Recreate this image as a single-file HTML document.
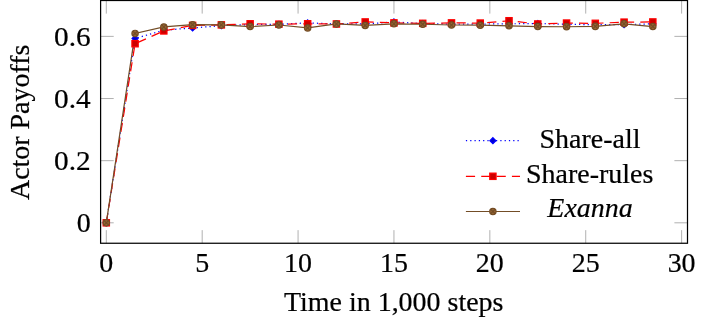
<!DOCTYPE html><html><head><meta charset="utf-8"><title>chart</title>
<style>html,body{margin:0;padding:0;background:#fff;overflow:hidden}svg{display:block;will-change:transform}text{font-family:"Liberation Serif",serif;fill:#000;stroke:#000;stroke-width:0.22px}</style></head><body>
<svg width="705" height="326" viewBox="0 0 705 326">
<rect width="705" height="326" fill="#fff"/>
<path d="M106.30,243.25 V230.15 M106.30,0.5 V13.60 M202.19,243.25 V230.15 M202.19,0.5 V13.60 M298.07,243.25 V230.15 M298.07,0.5 V13.60 M393.95,243.25 V230.15 M393.95,0.5 V13.60 M489.84,243.25 V230.15 M489.84,0.5 V13.60 M585.73,243.25 V230.15 M585.73,0.5 V13.60 M681.61,243.25 V230.15 M681.61,0.5 V13.60 M100.6,222.80 H113.70 M687.5,222.80 H674.40 M100.6,160.66 H113.70 M687.5,160.66 H674.40 M100.6,98.52 H113.70 M687.5,98.52 H674.40 M100.6,36.38 H113.70 M687.5,36.38 H674.40" stroke="#808080" stroke-width="0.62" fill="none"/>
<clipPath id="c"><rect x="100.6" y="0.5" width="586.9" height="242.75"/></clipPath>
<g clip-path="url(#c)">
<polyline points="106.30,222.80 135.07,38.46 163.83,30.17 192.60,27.99 221.36,25.66 250.13,24.57 278.89,24.26 307.66,22.90 336.42,23.95 365.19,23.95 393.95,21.96 422.72,23.64 451.49,24.08 480.25,24.08 509.02,23.80 537.78,23.55 566.55,24.26 595.31,24.73 624.08,24.57 652.84,23.80" fill="none" stroke="#0000ff" stroke-width="1.23" stroke-dasharray="1.23 3.07"/>
<polyline points="106.30,222.80 135.07,43.71 163.83,30.91 192.60,25.38 221.36,24.88 250.13,23.80 278.89,24.17 307.66,23.80 336.42,23.98 365.19,21.96 393.95,22.90 422.72,23.33 451.49,22.90 480.25,23.08 509.02,20.75 537.78,23.98 566.55,23.08 595.31,23.33 624.08,22.15 652.84,21.96" fill="none" stroke="#ff0000" stroke-width="1.23" stroke-dasharray="9.2 6.14"/>
<polyline points="106.30,222.80 135.07,33.40 163.83,26.97 192.60,24.73 221.36,24.88 250.13,26.56 278.89,25.01 307.66,27.93 336.42,23.98 365.19,25.44 393.95,23.80 422.72,24.26 451.49,25.01 480.25,25.19 509.02,25.82 537.78,26.56 566.55,26.75 595.31,26.38 624.08,23.80 652.84,26.56" fill="none" stroke="#734d26" stroke-width="1.23"/>
</g>
<path d="M106.30,219.80 L109.30,222.80 L106.30,225.80 L103.30,222.80 Z" fill="#0000cc" stroke="#0000ff" stroke-width="1.23" stroke-linejoin="miter"/>
<path d="M135.07,35.46 L138.07,38.46 L135.07,41.46 L132.07,38.46 Z" fill="#0000cc" stroke="#0000ff" stroke-width="1.23" stroke-linejoin="miter"/>
<path d="M163.83,27.17 L166.83,30.17 L163.83,33.17 L160.83,30.17 Z" fill="#0000cc" stroke="#0000ff" stroke-width="1.23" stroke-linejoin="miter"/>
<path d="M192.60,24.99 L195.60,27.99 L192.60,30.99 L189.60,27.99 Z" fill="#0000cc" stroke="#0000ff" stroke-width="1.23" stroke-linejoin="miter"/>
<path d="M221.36,22.66 L224.36,25.66 L221.36,28.66 L218.36,25.66 Z" fill="#0000cc" stroke="#0000ff" stroke-width="1.23" stroke-linejoin="miter"/>
<path d="M250.13,21.57 L253.13,24.57 L250.13,27.57 L247.13,24.57 Z" fill="#0000cc" stroke="#0000ff" stroke-width="1.23" stroke-linejoin="miter"/>
<path d="M278.89,21.26 L281.89,24.26 L278.89,27.26 L275.89,24.26 Z" fill="#0000cc" stroke="#0000ff" stroke-width="1.23" stroke-linejoin="miter"/>
<path d="M307.66,19.90 L310.66,22.90 L307.66,25.90 L304.66,22.90 Z" fill="#0000cc" stroke="#0000ff" stroke-width="1.23" stroke-linejoin="miter"/>
<path d="M336.42,20.95 L339.42,23.95 L336.42,26.95 L333.42,23.95 Z" fill="#0000cc" stroke="#0000ff" stroke-width="1.23" stroke-linejoin="miter"/>
<path d="M365.19,20.95 L368.19,23.95 L365.19,26.95 L362.19,23.95 Z" fill="#0000cc" stroke="#0000ff" stroke-width="1.23" stroke-linejoin="miter"/>
<path d="M393.95,18.96 L396.95,21.96 L393.95,24.96 L390.95,21.96 Z" fill="#0000cc" stroke="#0000ff" stroke-width="1.23" stroke-linejoin="miter"/>
<path d="M422.72,20.64 L425.72,23.64 L422.72,26.64 L419.72,23.64 Z" fill="#0000cc" stroke="#0000ff" stroke-width="1.23" stroke-linejoin="miter"/>
<path d="M451.49,21.08 L454.49,24.08 L451.49,27.08 L448.49,24.08 Z" fill="#0000cc" stroke="#0000ff" stroke-width="1.23" stroke-linejoin="miter"/>
<path d="M480.25,21.08 L483.25,24.08 L480.25,27.08 L477.25,24.08 Z" fill="#0000cc" stroke="#0000ff" stroke-width="1.23" stroke-linejoin="miter"/>
<path d="M509.02,20.80 L512.02,23.80 L509.02,26.80 L506.02,23.80 Z" fill="#0000cc" stroke="#0000ff" stroke-width="1.23" stroke-linejoin="miter"/>
<path d="M537.78,20.55 L540.78,23.55 L537.78,26.55 L534.78,23.55 Z" fill="#0000cc" stroke="#0000ff" stroke-width="1.23" stroke-linejoin="miter"/>
<path d="M566.55,21.26 L569.55,24.26 L566.55,27.26 L563.55,24.26 Z" fill="#0000cc" stroke="#0000ff" stroke-width="1.23" stroke-linejoin="miter"/>
<path d="M595.31,21.73 L598.31,24.73 L595.31,27.73 L592.31,24.73 Z" fill="#0000cc" stroke="#0000ff" stroke-width="1.23" stroke-linejoin="miter"/>
<path d="M624.08,21.57 L627.08,24.57 L624.08,27.57 L621.08,24.57 Z" fill="#0000cc" stroke="#0000ff" stroke-width="1.23" stroke-linejoin="miter"/>
<path d="M652.84,20.80 L655.84,23.80 L652.84,26.80 L649.84,23.80 Z" fill="#0000cc" stroke="#0000ff" stroke-width="1.23" stroke-linejoin="miter"/>
<rect x="103.15" y="219.65" width="6.30" height="6.30" fill="#cc0000" stroke="#ff0000" stroke-width="1.23"/>
<rect x="131.92" y="40.56" width="6.30" height="6.30" fill="#cc0000" stroke="#ff0000" stroke-width="1.23"/>
<rect x="160.68" y="27.76" width="6.30" height="6.30" fill="#cc0000" stroke="#ff0000" stroke-width="1.23"/>
<rect x="189.45" y="22.23" width="6.30" height="6.30" fill="#cc0000" stroke="#ff0000" stroke-width="1.23"/>
<rect x="218.21" y="21.73" width="6.30" height="6.30" fill="#cc0000" stroke="#ff0000" stroke-width="1.23"/>
<rect x="246.98" y="20.65" width="6.30" height="6.30" fill="#cc0000" stroke="#ff0000" stroke-width="1.23"/>
<rect x="275.74" y="21.02" width="6.30" height="6.30" fill="#cc0000" stroke="#ff0000" stroke-width="1.23"/>
<rect x="304.51" y="20.65" width="6.30" height="6.30" fill="#cc0000" stroke="#ff0000" stroke-width="1.23"/>
<rect x="333.27" y="20.83" width="6.30" height="6.30" fill="#cc0000" stroke="#ff0000" stroke-width="1.23"/>
<rect x="362.04" y="18.81" width="6.30" height="6.30" fill="#cc0000" stroke="#ff0000" stroke-width="1.23"/>
<rect x="390.81" y="19.75" width="6.30" height="6.30" fill="#cc0000" stroke="#ff0000" stroke-width="1.23"/>
<rect x="419.57" y="20.18" width="6.30" height="6.30" fill="#cc0000" stroke="#ff0000" stroke-width="1.23"/>
<rect x="448.34" y="19.75" width="6.30" height="6.30" fill="#cc0000" stroke="#ff0000" stroke-width="1.23"/>
<rect x="477.10" y="19.93" width="6.30" height="6.30" fill="#cc0000" stroke="#ff0000" stroke-width="1.23"/>
<rect x="505.87" y="17.60" width="6.30" height="6.30" fill="#cc0000" stroke="#ff0000" stroke-width="1.23"/>
<rect x="534.63" y="20.83" width="6.30" height="6.30" fill="#cc0000" stroke="#ff0000" stroke-width="1.23"/>
<rect x="563.40" y="19.93" width="6.30" height="6.30" fill="#cc0000" stroke="#ff0000" stroke-width="1.23"/>
<rect x="592.16" y="20.18" width="6.30" height="6.30" fill="#cc0000" stroke="#ff0000" stroke-width="1.23"/>
<rect x="620.93" y="19.00" width="6.30" height="6.30" fill="#cc0000" stroke="#ff0000" stroke-width="1.23"/>
<rect x="649.69" y="18.81" width="6.30" height="6.30" fill="#cc0000" stroke="#ff0000" stroke-width="1.23"/>
<circle cx="106.30" cy="222.80" r="3.15" fill="#996633" stroke="#734d26" stroke-width="1.23"/><path d="M104.00,220.50 L108.60,225.10 M104.00,225.10 L108.60,220.50" stroke="#734d26" stroke-width="1.23" fill="none"/>
<circle cx="135.07" cy="33.40" r="3.15" fill="#996633" stroke="#734d26" stroke-width="1.23"/><path d="M132.77,31.10 L137.36,35.70 M132.77,35.70 L137.36,31.10" stroke="#734d26" stroke-width="1.23" fill="none"/>
<circle cx="163.83" cy="26.97" r="3.15" fill="#996633" stroke="#734d26" stroke-width="1.23"/><path d="M161.53,24.67 L166.13,29.26 M161.53,29.26 L166.13,24.67" stroke="#734d26" stroke-width="1.23" fill="none"/>
<circle cx="192.60" cy="24.73" r="3.15" fill="#996633" stroke="#734d26" stroke-width="1.23"/><path d="M190.30,22.43 L194.89,27.03 M190.30,27.03 L194.89,22.43" stroke="#734d26" stroke-width="1.23" fill="none"/>
<circle cx="221.36" cy="24.88" r="3.15" fill="#996633" stroke="#734d26" stroke-width="1.23"/><path d="M219.06,22.59 L223.66,27.18 M219.06,27.18 L223.66,22.59" stroke="#734d26" stroke-width="1.23" fill="none"/>
<circle cx="250.13" cy="26.56" r="3.15" fill="#996633" stroke="#734d26" stroke-width="1.23"/><path d="M247.83,24.26 L252.43,28.86 M247.83,28.86 L252.43,24.26" stroke="#734d26" stroke-width="1.23" fill="none"/>
<circle cx="278.89" cy="25.01" r="3.15" fill="#996633" stroke="#734d26" stroke-width="1.23"/><path d="M276.59,22.71 L281.19,27.31 M276.59,27.31 L281.19,22.71" stroke="#734d26" stroke-width="1.23" fill="none"/>
<circle cx="307.66" cy="27.93" r="3.15" fill="#996633" stroke="#734d26" stroke-width="1.23"/><path d="M305.36,25.63 L309.96,30.23 M305.36,30.23 L309.96,25.63" stroke="#734d26" stroke-width="1.23" fill="none"/>
<circle cx="336.42" cy="23.98" r="3.15" fill="#996633" stroke="#734d26" stroke-width="1.23"/><path d="M334.13,21.68 L338.72,26.28 M334.13,26.28 L338.72,21.68" stroke="#734d26" stroke-width="1.23" fill="none"/>
<circle cx="365.19" cy="25.44" r="3.15" fill="#996633" stroke="#734d26" stroke-width="1.23"/><path d="M362.89,23.15 L367.49,27.74 M362.89,27.74 L367.49,23.15" stroke="#734d26" stroke-width="1.23" fill="none"/>
<circle cx="393.95" cy="23.80" r="3.15" fill="#996633" stroke="#734d26" stroke-width="1.23"/><path d="M391.66,21.50 L396.25,26.09 M391.66,26.09 L396.25,21.50" stroke="#734d26" stroke-width="1.23" fill="none"/>
<circle cx="422.72" cy="24.26" r="3.15" fill="#996633" stroke="#734d26" stroke-width="1.23"/><path d="M420.42,21.96 L425.02,26.56 M420.42,26.56 L425.02,21.96" stroke="#734d26" stroke-width="1.23" fill="none"/>
<circle cx="451.49" cy="25.01" r="3.15" fill="#996633" stroke="#734d26" stroke-width="1.23"/><path d="M449.19,22.71 L453.78,27.31 M449.19,27.31 L453.78,22.71" stroke="#734d26" stroke-width="1.23" fill="none"/>
<circle cx="480.25" cy="25.19" r="3.15" fill="#996633" stroke="#734d26" stroke-width="1.23"/><path d="M477.95,22.90 L482.55,27.49 M477.95,27.49 L482.55,22.90" stroke="#734d26" stroke-width="1.23" fill="none"/>
<circle cx="509.02" cy="25.82" r="3.15" fill="#996633" stroke="#734d26" stroke-width="1.23"/><path d="M506.72,23.52 L511.32,28.11 M506.72,28.11 L511.32,23.52" stroke="#734d26" stroke-width="1.23" fill="none"/>
<circle cx="537.78" cy="26.56" r="3.15" fill="#996633" stroke="#734d26" stroke-width="1.23"/><path d="M535.48,24.26 L540.08,28.86 M535.48,28.86 L540.08,24.26" stroke="#734d26" stroke-width="1.23" fill="none"/>
<circle cx="566.55" cy="26.75" r="3.15" fill="#996633" stroke="#734d26" stroke-width="1.23"/><path d="M564.25,24.45 L568.85,29.05 M564.25,29.05 L568.85,24.45" stroke="#734d26" stroke-width="1.23" fill="none"/>
<circle cx="595.31" cy="26.38" r="3.15" fill="#996633" stroke="#734d26" stroke-width="1.23"/><path d="M593.02,24.08 L597.61,28.67 M593.02,28.67 L597.61,24.08" stroke="#734d26" stroke-width="1.23" fill="none"/>
<circle cx="624.08" cy="23.80" r="3.15" fill="#996633" stroke="#734d26" stroke-width="1.23"/><path d="M621.78,21.50 L626.38,26.09 M621.78,26.09 L626.38,21.50" stroke="#734d26" stroke-width="1.23" fill="none"/>
<circle cx="652.84" cy="26.56" r="3.15" fill="#996633" stroke="#734d26" stroke-width="1.23"/><path d="M650.55,24.26 L655.14,28.86 M650.55,28.86 L655.14,24.26" stroke="#734d26" stroke-width="1.23" fill="none"/>
<rect x="100.6" y="0.5" width="586.9" height="242.75" fill="none" stroke="#000" stroke-width="1.23"/>
<text x="106.30" y="272.3" font-size="27.95" text-anchor="middle">0</text>
<text x="202.19" y="272.3" font-size="27.95" text-anchor="middle">5</text>
<text x="298.07" y="272.3" font-size="27.95" text-anchor="middle">10</text>
<text x="393.95" y="272.3" font-size="27.95" text-anchor="middle">15</text>
<text x="489.84" y="272.3" font-size="27.95" text-anchor="middle">20</text>
<text x="585.73" y="272.3" font-size="27.95" text-anchor="middle">25</text>
<text x="681.61" y="272.3" font-size="27.95" text-anchor="middle">30</text>
<text x="90.6" y="232.00" font-size="27.95" text-anchor="end">0</text>
<text x="90.6" y="169.86" font-size="27.95" text-anchor="end" textLength="36.6" lengthAdjust="spacingAndGlyphs">0.2</text>
<text x="90.6" y="107.72" font-size="27.95" text-anchor="end" textLength="36.6" lengthAdjust="spacingAndGlyphs">0.4</text>
<text x="90.6" y="45.58" font-size="27.95" text-anchor="end" textLength="36.6" lengthAdjust="spacingAndGlyphs">0.6</text>
<text x="393.7" y="310.5" font-size="27.95" text-anchor="middle">Time in 1,000 steps</text>
<text transform="translate(29.1,122.3) rotate(-90)" font-size="27.95" text-anchor="middle">Actor Payoffs</text>
<path d="M465.9,140.7 H520.0" stroke="#0000ff" stroke-width="1.23" stroke-dasharray="1.23 3.07" fill="none"/>
<path d="M492.90,137.70 L495.90,140.70 L492.90,143.70 L489.90,140.70 Z" fill="#0000cc" stroke="#0000ff" stroke-width="1.23" stroke-linejoin="miter"/>
<path d="M465.9,176.3 H520.0" stroke="#ff0000" stroke-width="1.23" stroke-dasharray="9.2 6.14" fill="none"/>
<rect x="489.75" y="173.15" width="6.30" height="6.30" fill="#cc0000" stroke="#ff0000" stroke-width="1.23"/>
<path d="M465.9,211.5 H520.0" stroke="#734d26" stroke-width="1.23" fill="none"/>
<circle cx="492.90" cy="211.50" r="3.15" fill="#996633" stroke="#734d26" stroke-width="1.23"/><path d="M490.60,209.20 L495.20,213.80 M490.60,213.80 L495.20,209.20" stroke="#734d26" stroke-width="1.23" fill="none"/>
<text x="590" y="147.8" font-size="27.95" text-anchor="middle">Share-all</text>
<text x="589.7" y="183.1" font-size="27.95" text-anchor="middle">Share-rules</text>
<text x="590" y="217.4" font-size="27.95" text-anchor="middle" font-style="italic">Exanna</text>
</svg></body></html>
